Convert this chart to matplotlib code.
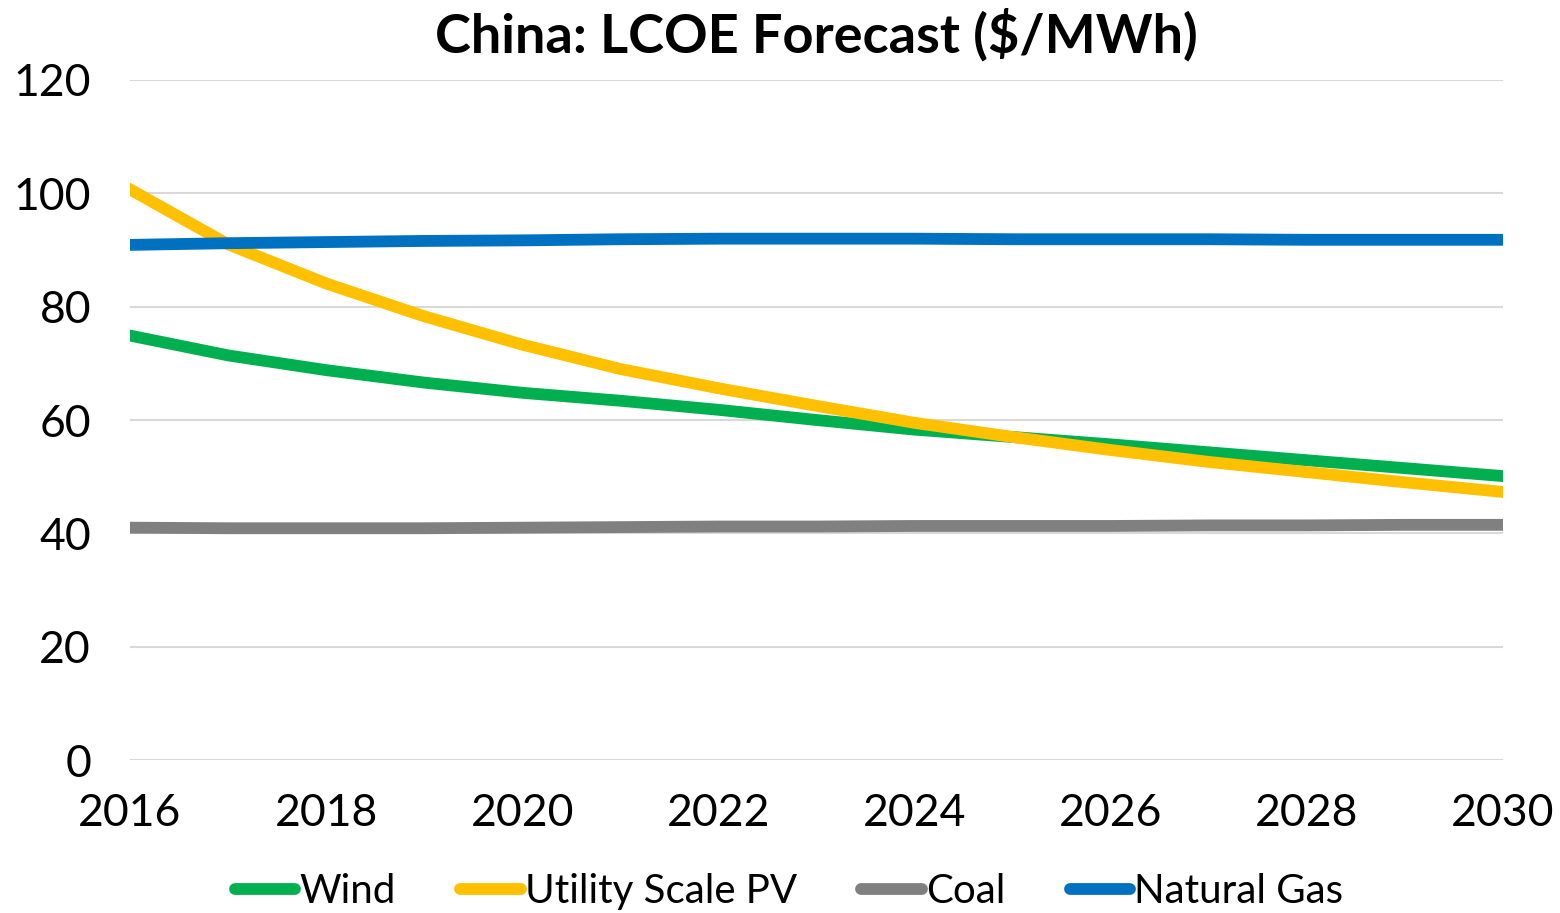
import matplotlib
matplotlib.use('Agg')
import matplotlib.pyplot as plt

years = list(range(2016, 2031))
wind = [74.9, 71.4, 68.8, 66.6, 64.8, 63.4, 61.8, 60.0, 58.3, 57.0, 55.7, 54.3, 52.9, 51.5, 50.1]
pv = [100.7, 91.0, 84.1, 78.3, 73.3, 69.0, 65.6, 62.5, 59.5, 57.0, 54.7, 52.6, 50.8, 49.0, 47.3]
coal = [41.0, 40.9, 40.9, 40.9, 41.0, 41.1, 41.2, 41.2, 41.3, 41.3, 41.3, 41.4, 41.4, 41.5, 41.5]
gas = [90.9, 91.2, 91.4, 91.6, 91.7, 91.9, 92.0, 92.0, 92.0, 91.9, 91.9, 91.9, 91.8, 91.8, 91.8]

plt.rcParams['font.family'] = ['Lato', 'DejaVu Sans']

fig = plt.figure(figsize=(15.6, 9.13), dpi=100)
ax = fig.add_axes([130 / 1560, 1 - 760 / 913, 1373 / 1560, 680 / 913])

lw = 8.5
ax.plot(years, wind, color='#00b050', lw=lw, label='Wind')
ax.plot(years, pv, color='#ffc000', lw=lw, label='Utility Scale PV')
ax.plot(years, coal, color='#808080', lw=lw, label='Coal')
ax.plot(years, gas, color='#0070c0', lw=lw, label='Natural Gas')

ax.set_xlim(2016, 2030)
ax.set_ylim(0, 120)
ax.set_xticks(range(2016, 2031, 2))
ax.set_yticks(range(0, 121, 20))
ax.grid(axis='y', color='#d9d9d9', lw=1.5)
ax.set_axisbelow(True)
for s in ax.spines.values():
    s.set_visible(False)
ax.tick_params(length=0, labelsize=32)
ax.tick_params(axis='x', pad=24)
ax.tick_params(axis='y', pad=28)

ax.set_title('China: LCOE Forecast ($/MWh)', fontsize=39, fontweight='bold', pad=20)

leg = ax.legend(loc='lower center', bbox_to_anchor=(0.48, -0.262), ncol=4, frameon=False,
                fontsize=29, handlelength=1.5, handletextpad=0.1, columnspacing=1.6,
                borderpad=0.2)
for h in leg.get_lines():
    h.set_solid_capstyle('round')

fig.savefig('out.png', dpi=100)
